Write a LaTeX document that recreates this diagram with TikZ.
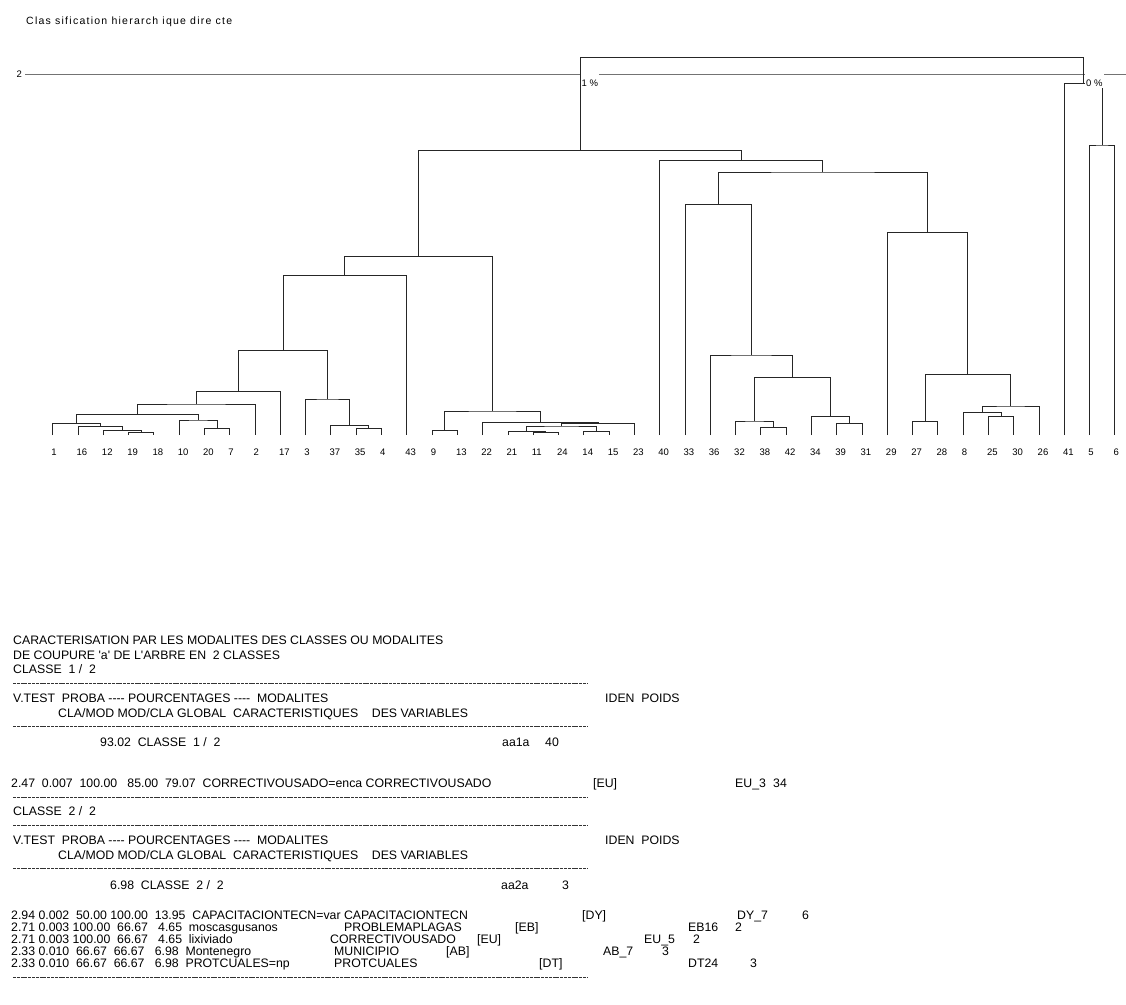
\documentclass[tikz,border=0pt]{standalone}
\usepackage{fontspec}
\newfontfamily\spadfont{Liberation Sans}
\newfontfamily\spadspaced[LetterSpace=12]{Liberation Sans}
\usetikzlibrary{calc}

% join two subtrees at a given level
\newcommand{\merge}[4]{%
  \path let \p1=(#2), \p2=(#3) in coordinate (#1) at ({0.5*(\x1+\x2)},{-#4pt});
  \draw[branch] (#2) |- (#1) -| (#3);
}

\begin{document}
\begin{tikzpicture}[x=1pt, y=-1pt,
        branch/.style={draw=black!85, line width=0.8pt},
        axisline/.style={draw=black!55, line width=1pt},
        leaflab/.style={font=\spadfont\fontsize{9.5}{11}\selectfont, anchor=base west, inner sep=0pt},
        pct/.style={font=\spadfont\fontsize{9.5}{11}\selectfont, anchor=base west,
            fill=white, inner xsep=1pt, inner ysep=1pt, text height=12pt},
        hdr/.style={font=\spadfont\fontsize{12.3}{14}\selectfont, anchor=base west, inner sep=0pt},
        rulerow/.style={draw=black!80, line width=0.6pt, dash pattern=on 3pt off 0.8pt}
    ]
        \fill[white] (0,0) rectangle (1126,1004);
        \useasboundingbox (0,0) rectangle (1126,1004);

        % ----------------------------------------------------
        % TITLE AND LEVEL AXIS
        % ----------------------------------------------------
        \node[anchor=base west, inner sep=0pt, font=\spadspaced\fontsize{10.5}{12}\selectfont] (title) at (26,24) {Clas sification hierarch ique dire cte};
        \node[leaflab] (lev) at (16.5,77.8) {2};
        \coordinate (axL) at (25,74.3);
        \coordinate (axR) at (1126,74.3);
        \draw[axisline] (axL) -- (axR);

        % ----------------------------------------------------
        % LEAVES
        % ----------------------------------------------------
        \foreach \lab [count=\i from 0] in {1,16,12,19,18,10,20,7,2,17,3,37,35,4,43,9,13,22,21,11,24,14,15,23,40,33,36,32,38,42,34,39,31,29,27,28,8,25,30,26,41,5,6} {
            \coordinate (L\lab) at ({52.7+25.29*\i},435);
            \node[leaflab] (t\lab) at ({51.2+25.29*\i},455) {\lab};
        }

        % ----------------------------------------------------
        % LEFT BRANCH
        % ----------------------------------------------------
        \merge{m1918}{L19}{L18}{432.7}
        \merge{m12}{L12}{m1918}{430.7}
        \merge{m16}{L16}{m12}{426.7}
        \merge{m1}{L1}{m16}{423.3}
        \merge{m207}{L20}{L7}{428.3}
        \merge{m10}{L10}{m207}{420}
        \merge{mA}{m1}{m10}{414.7}
        \merge{mB}{mA}{L2}{404}
        \merge{mC}{mB}{L17}{391.3}
        \merge{m354}{L35}{L4}{428.3}
        \merge{m37}{L37}{m354}{425.3}
        \merge{m3}{L3}{m37}{399}
        \merge{mD}{mC}{m3}{350.7}
        \merge{mE}{mD}{L43}{275.7}
        \merge{m913}{L9}{L13}{430.7}
        \merge{m1124}{L11}{L24}{432.5}
        \merge{m21}{L21}{m1124}{431.3}
        \merge{m1415}{L14}{L15}{431.7}
        \merge{mF}{m21}{m1415}{426}
        \merge{mG}{mF}{L23}{423.5}
        \merge{mH}{L22}{mG}{422.5}
        \merge{mI}{m913}{mH}{411}
        \merge{mJ}{mE}{mI}{256.3}

        % ----------------------------------------------------
        % RIGHT BRANCH
        % ----------------------------------------------------
        \merge{m3842}{L38}{L42}{427.3}
        \merge{m32}{L32}{m3842}{421}
        \merge{m3931}{L39}{L31}{423.8}
        \merge{m34}{L34}{m3931}{416.5}
        \merge{mK}{m32}{m34}{377.3}
        \merge{mL}{L36}{mK}{355}
        \merge{mM}{L33}{mL}{204.7}
        \merge{m2728}{L27}{L28}{421.7}
        \merge{m2530}{L25}{L30}{416.5}
        \merge{m8}{L8}{m2530}{412.5}
        \merge{mN}{m8}{L26}{406}
        \merge{mO}{m2728}{mN}{374.3}
        \merge{mP}{L29}{mO}{232.3}
        \merge{mQ}{mM}{mP}{172}
        \merge{mR}{L40}{mQ}{160.7}
        \merge{mS}{mJ}{mR}{150.7}
        \merge{m56}{L5}{L6}{145}
        \merge{mT}{L41}{m56}{83.3}
        \merge{root}{mS}{mT}{57.3}

        % cut percentages
        \node[pct] (p1) at (580.5,86.5) {1 \%};
        \node[pct] (p0) at (1085,86.5) {0 \%};

        % ----------------------------------------------------
        % CLASS 1 / 2
        % ----------------------------------------------------
        \node[hdr] (c1) at (13,644.5) {CARACTERISATION PAR LES MODALITES DES CLASSES OU MODALITES};
        \node[hdr] (c2) at (13,659.5) {DE COUPURE 'a' DE L'ARBRE EN \ 2 CLASSES};
        \node[hdr] (c3) at (13,673.8) {CLASSE \ 1 / \ 2};
        \draw[rulerow] (13,683.3) -- (587,683.3);
        \node[hdr] (h1a) at (13,702.8) {V.TEST \ PROBA ---- POURCENTAGES ---- \ MODALITES};
        \node[hdr] (h1b) at (605,702.8) {IDEN \ POIDS};
        \node[hdr] (h1c) at (58,717.2) {CLA/MOD MOD/CLA GLOBAL \ CARACTERISTIQUES \ \ \ DES VARIABLES};
        \draw[rulerow] (13,726.7) -- (587,726.7);
        \node[hdr] (k1) at (100,746.2) {93.02 \ CLASSE \ 1 / \ 2};
        \node[hdr] (k1id) at (502,746.2) {aa1a};
        \node[hdr] (k1w) at (545,746.2) {40};

        \node[hdr] (r1) at (11,787.5) {2.47 \ 0.007 \ 100.00 \ \ 85.00 \ 79.07 \ CORRECTIVOUSADO=enca CORRECTIVOUSADO};
        \node[hdr] (r1b) at (593,787.5) {[EU]};
        \node[hdr] (r1c) at (735,787.5) {EU\_3};
        \node[hdr] (r1d) at (773,787.5) {34};
        \draw[rulerow] (13,797) -- (587,797);

        % ----------------------------------------------------
        % CLASS 2 / 2
        % ----------------------------------------------------
        \node[hdr] (d3) at (13,815.5) {CLASSE \ 2 / \ 2};
        \draw[rulerow] (13,825) -- (587,825);
        \node[hdr] (h2a) at (13,844.5) {V.TEST \ PROBA ---- POURCENTAGES ---- \ MODALITES};
        \node[hdr] (h2b) at (605,844.5) {IDEN \ POIDS};
        \node[hdr] (h2c) at (58,859) {CLA/MOD MOD/CLA GLOBAL \ CARACTERISTIQUES \ \ \ DES VARIABLES};
        \draw[rulerow] (13,868) -- (587,868);
        \node[hdr] (k2) at (110,889.5) {6.98 \ CLASSE \ 2 / \ 2};
        \node[hdr] (k2id) at (501,889.5) {aa2a};
        \node[hdr] (k2w) at (562,889.5) {3};

        \node[hdr] (s1) at (11,919.5) {2.94 0.002 \ 50.00 100.00 \ 13.95 \ CAPACITACIONTECN=var CAPACITACIONTECN};
        \node[hdr] (s1b) at (582,919.5) {[DY]};
        \node[hdr] (s1c) at (737,919.5) {DY\_7};
        \node[hdr] (s1d) at (802,919.5) {6};

        \node[hdr] (s2) at (11,931.5) {2.71 0.003 100.00 \ 66.67 \ \ 4.65 \ moscasgusanos};
        \node[hdr] (s2a) at (344,931.5) {PROBLEMAPLAGAS};
        \node[hdr] (s2b) at (515,931.5) {[EB]};
        \node[hdr] (s2c) at (688,931.5) {EB16};
        \node[hdr] (s2d) at (735,931.5) {2};

        \node[hdr] (s3) at (11,943.5) {2.71 0.003 100.00 \ 66.67 \ \ 4.65 \ lixiviado};
        \node[hdr] (s3a) at (330,943.5) {CORRECTIVOUSADO};
        \node[hdr] (s3b) at (477,943.5) {[EU]};
        \node[hdr] (s3c) at (644,943.5) {EU\_5};
        \node[hdr] (s3d) at (693,943.5) {2};

        \node[hdr] (s4) at (11,955.5) {2.33 0.010 \ 66.67 \ 66.67 \ \ 6.98 \ Montenegro};
        \node[hdr] (s4a) at (334,955.5) {MUNICIPIO};
        \node[hdr] (s4b) at (446,955.5) {[AB]};
        \node[hdr] (s4c) at (603,955.5) {AB\_7};
        \node[hdr] (s4d) at (662,955.5) {3};

        \node[hdr] (s5) at (11,967.5) {2.33 0.010 \ 66.67 \ 66.67 \ \ 6.98 \ PROTCUALES=np};
        \node[hdr] (s5a) at (334,967.5) {PROTCUALES};
        \node[hdr] (s5b) at (539,967.5) {[DT]};
        \node[hdr] (s5c) at (688,967.5) {DT24};
        \node[hdr] (s5d) at (750,967.5) {3};
        \draw[rulerow] (13,977) -- (587,977);

    \end{tikzpicture}
\end{document}
